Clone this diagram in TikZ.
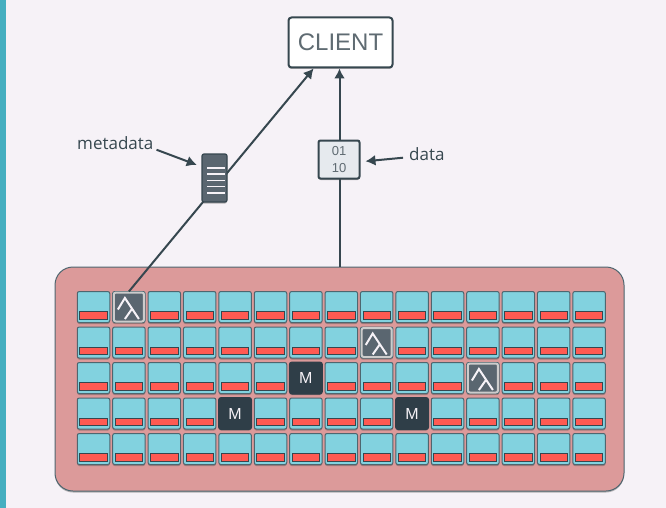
\documentclass[tikz,border=0pt]{standalone}
\usepackage{fontspec}
\setmainfont{Liberation Sans}
\newfontfamily\labelfont{Open Sans}
\usetikzlibrary{arrows.meta,shadows}
\definecolor{page}{HTML}{F6F2F7}
\definecolor{strip}{HTML}{45AFC0}
\definecolor{storef}{HTML}{DC9A9A}
\definecolor{rand}{HTML}{36474F}
\definecolor{diskf}{HTML}{82D2DF}
\definecolor{diskd}{HTML}{4E666F}
\definecolor{barf}{HTML}{FF5A52}
\definecolor{mdark}{HTML}{2F3E48}
\definecolor{icon}{HTML}{5A6670}
\definecolor{txt}{HTML}{5F6B72}
\definecolor{bitsf}{HTML}{E6EAEE}
\tikzset{
  lift/.style={drop shadow={shadow xshift=0pt,shadow yshift=-1.5pt,opacity=0.4,fill=black!70}},
  conn/.style={-{Latex[length=10pt,width=11pt]},rand,line width=2pt},
  note/.style={-{Latex[length=10pt,width=11pt]},rand,line width=2pt,shorten >=5pt},
  disk/.style={draw=diskd,fill=diskf,line width=1pt,rounded corners=2pt,minimum width=32.5pt,minimum height=31pt,inner sep=0pt,lift},
  bar/.style={draw=rand,fill=barf,line width=0.8pt,minimum width=27.5pt,minimum height=7.5pt,inner sep=0pt},
  mdisk/.style={fill=mdark,rounded corners=3pt,minimum width=34pt,minimum height=33pt,inner sep=0pt,text=page,font=\fontsize{16}{16}\selectfont},
  treedisk/.style={draw=black!20,fill=icon,line width=2pt,rounded corners=2pt,minimum width=30pt,minimum height=29pt,inner sep=0pt,lift},
  branch/.style={draw=page,line width=2pt},
  label/.style={text=rand,inner sep=0pt,font=\labelfont\fontsize{17}{17}\selectfont},
}
\begin{document}
\begin{tikzpicture}[x=1pt,y=-1pt]
  \useasboundingbox (0,0) rectangle (666,508);
  \fill[page] (0,0) rectangle (666,508);
  \fill[strip] (0,0) rectangle (6,508);
  \node[draw=diskd,fill=storef,line width=1pt,rounded corners=18pt,minimum width=569pt,minimum height=224pt,inner sep=0pt,lift] (store) at (339.5,379) {};
  \foreach \j in {0,...,4}
    \foreach \i in {0,...,14} {
      \node[disk] (c-\i-\j) at ({93.5+35.4*\i},{307+35.5*\j}) {};
      \node[bar] (b-\i-\j) at ([yshift=-8.5pt]c-\i-\j.center) {};
    }
  \foreach \n/\i/\j in {1/6/2,2/4/3,3/9/3}
    \node[mdisk] (m\n) at (c-\i-\j) {M};
  \foreach \n/\i/\j in {1/1/0,2/8/1,3/11/2} {
    \node[treedisk] (tree\n) at (c-\i-\j) {};
    \draw[branch] ([shift={(-11pt,-2.5pt)}]tree\n.center) -- ([shift={(-4pt,9pt)}]tree\n.center) -- ([shift={(10pt,-12pt)}]tree\n.center);
    \draw[branch] ([shift={(3pt,-2pt)}]tree\n.center) -- ([shift={(-4pt,-12pt)}]tree\n.center);
  }
  \node[draw=rand,fill=white,line width=2pt,rounded corners=3pt,minimum width=104pt,minimum height=50pt,inner sep=0pt,text=txt,font=\fontsize{24}{24}\selectfont,lift] (client) at (340.5,42.5) {CLIENT};
  % both lines run behind the small boxes
  \draw[conn] (tree1.north) -- (client.-136);
  \draw[conn] (store.north) -- (store.north |- client.south);
  \node[draw=rand,fill=icon,line width=1.2pt,rounded corners=2pt,minimum width=25pt,minimum height=48pt,inner sep=0pt,lift] (md) at (214.5,178) {};
  \foreach \k in {0,...,4}
    \draw[page,line width=1.5pt] ([shift={(-7.5pt,{15-6.3*\k})}]md.center) -- ([shift={(10.5pt,{15-6.3*\k})}]md.center);
  \node[draw=rand,fill=bitsf,line width=2pt,rounded corners=2pt,minimum width=41pt,minimum height=38pt,inner sep=0pt,align=center,text=txt,font=\fontsize{13}{17}\selectfont,lift] (bits) at (339,159.5) {01\\10};
  \node[label,anchor=west] (metadata) at (77,143) {metadata};
  \node[label,anchor=west] (data) at (409,154) {data};
  \draw[note] ([xshift=3pt]metadata.south east) -- (md.139);
  \draw[note,shorten <=6pt] (data.-170) -- (bits.-6);
\end{tikzpicture}
\end{document}
